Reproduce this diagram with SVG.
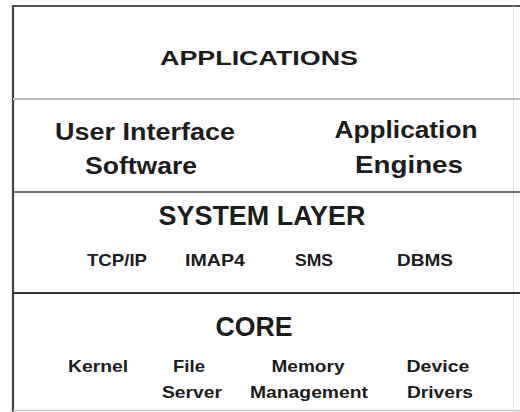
<svg xmlns="http://www.w3.org/2000/svg" width="520" height="412" viewBox="0 0 520 412">
<style>
text{font-family:"Liberation Sans",Arial,sans-serif;font-weight:bold;fill:#1c1c1c;text-anchor:middle}
.h1{font-size:21px}
.h2{font-size:24px}
.h3{font-size:27px}
.sm{font-size:16.5px}
</style>
<rect width="520" height="412" fill="#ffffff"/>
<g id="frame">
<line x1="12" y1="6" x2="520" y2="6" stroke="#555" stroke-width="2.2"/>
<line x1="13" y1="5" x2="13" y2="412" stroke="#444" stroke-width="2.2"/>
<line x1="13" y1="410.5" x2="520" y2="410.5" stroke="#c8c8c8" stroke-width="1.5"/>
<line x1="513.5" y1="6" x2="513.5" y2="411" stroke="#e4e4e4" stroke-width="1"/>
</g>
<g id="applications">
<text class="h1" x="259" y="65" textLength="198" lengthAdjust="spacingAndGlyphs">APPLICATIONS</text>
<line x1="13" y1="99" x2="520" y2="99" stroke="#bdbdbd" stroke-width="2"/>
</g>
<g id="user-interface-software">
<text class="h2" x="145" y="140" textLength="180" lengthAdjust="spacingAndGlyphs">User Interface</text>
<text class="h2" x="141" y="174" textLength="112" lengthAdjust="spacingAndGlyphs">Software</text>
</g>
<g id="application-engines">
<text class="h2" x="406" y="138" textLength="143" lengthAdjust="spacingAndGlyphs">Application</text>
<text class="h2" x="409" y="173" textLength="108" lengthAdjust="spacingAndGlyphs">Engines</text>
</g>
<g id="system-layer">
<line x1="13" y1="192" x2="520" y2="192" stroke="#444" stroke-width="1.6"/>
<text class="h3" x="262" y="225" textLength="207" lengthAdjust="spacingAndGlyphs">SYSTEM LAYER</text>
<text class="sm" x="117" y="266" textLength="60" lengthAdjust="spacingAndGlyphs">TCP/IP</text>
<text class="sm" x="215" y="266" textLength="60" lengthAdjust="spacingAndGlyphs">IMAP4</text>
<text class="sm" x="314" y="266" textLength="38" lengthAdjust="spacingAndGlyphs">SMS</text>
<text class="sm" x="425" y="266" textLength="56" lengthAdjust="spacingAndGlyphs">DBMS</text>
</g>
<g id="core">
<line x1="13" y1="293" x2="520" y2="293" stroke="#333" stroke-width="2"/>
<text class="h3" x="254" y="336" textLength="77" lengthAdjust="spacingAndGlyphs">CORE</text>
<text class="sm" x="98" y="372" textLength="60" lengthAdjust="spacingAndGlyphs">Kernel</text>
<text class="sm" x="189" y="372" textLength="32" lengthAdjust="spacingAndGlyphs">File</text>
<text class="sm" x="192" y="398" textLength="60" lengthAdjust="spacingAndGlyphs">Server</text>
<text class="sm" x="308" y="372" textLength="73" lengthAdjust="spacingAndGlyphs">Memory</text>
<text class="sm" x="309" y="398" textLength="118" lengthAdjust="spacingAndGlyphs">Management</text>
<text class="sm" x="438" y="372" textLength="63" lengthAdjust="spacingAndGlyphs">Device</text>
<text class="sm" x="440" y="398" textLength="66" lengthAdjust="spacingAndGlyphs">Drivers</text>
</g>
<g id="connectors"></g>
</svg>
